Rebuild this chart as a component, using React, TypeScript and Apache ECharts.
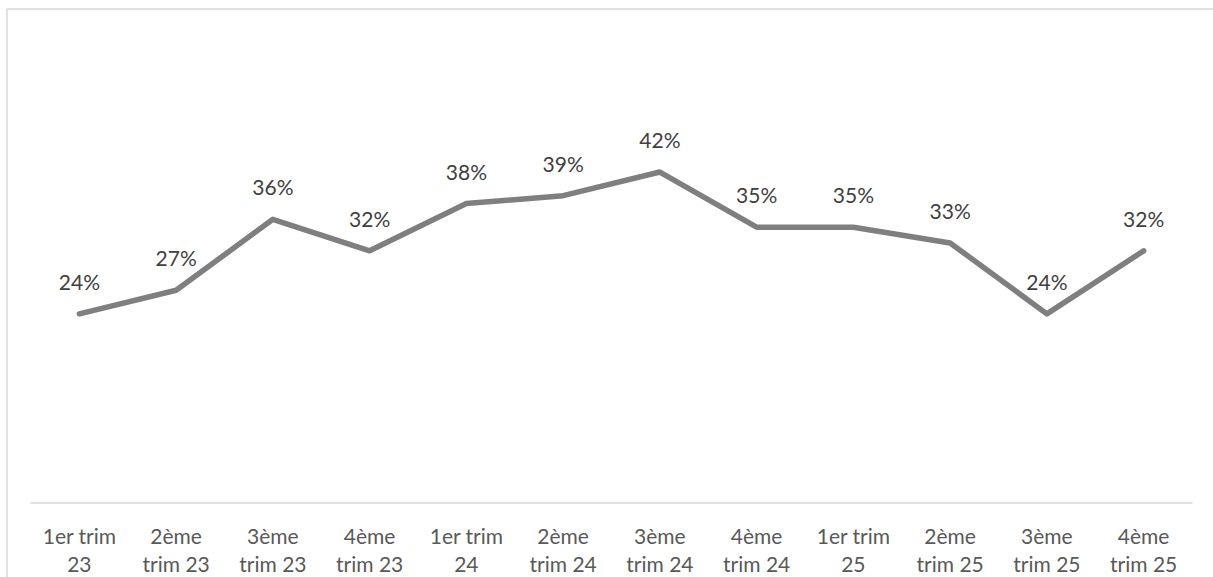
import React, { useEffect, useRef } from "react";
import * as echarts from "echarts";

const categories = [
  "1er trim\n23", "2ème\ntrim 23", "3ème\ntrim 23", "4ème\ntrim 23",
  "1er trim\n24", "2ème\ntrim 24", "3ème\ntrim 24", "4ème\ntrim 24",
  "1er trim\n25", "2ème\ntrim 25", "3ème\ntrim 25", "4ème\ntrim 25",
];
const values = [24, 27, 36, 32, 38, 39, 42, 35, 35, 33, 24, 32];

const FONT = "Lato, 'Open Sans', sans-serif";

export default function App() {
  const ref = useRef<HTMLDivElement>(null);
  useEffect(() => {
    if (!ref.current) return;
    const chart = echarts.init(ref.current, undefined, { renderer: "svg" });
    chart.setOption({
      animation: false,
      backgroundColor: "#ffffff",
      grid: { left: 31, right: 21, top: 109, bottom: 74, containLabel: false },
      graphic: [
        { type: "line", shape: { x1: 7, y1: 9, x2: 7, y2: 577 }, style: { stroke: "#d9d9d9", lineWidth: 1.5 } },
        { type: "line", shape: { x1: 7, y1: 9, x2: 1213, y2: 9 }, style: { stroke: "#d9d9d9", lineWidth: 1.5 } },
      ],
      xAxis: {
        type: "category",
        data: categories,
        boundaryGap: true,
        axisLine: { lineStyle: { color: "#d9d9d9", width: 1.5 } },
        axisTick: { show: false },
        axisLabel: {
          color: "#595959",
          fontFamily: FONT,
          fontSize: 21,
          lineHeight: 28,
          margin: 18,
          interval: 0,
        },
      },
      yAxis: {
        type: "value",
        min: 0,
        max: 50,
        show: false,
        splitLine: { show: false },
      },
      series: [
        {
          type: "line",
          data: values,
          symbol: "circle",
          symbolSize: 2,
          showSymbol: true,
          itemStyle: { color: "rgba(0,0,0,0)", borderWidth: 0 },
          lineStyle: { color: "#7f7f7f", width: 5.5, cap: "round", join: "round" },
          label: {
            show: true,
            position: "top",
            distance: 21,
            formatter: "{c}%",
            color: "#404040",
            fontFamily: FONT,
            fontSize: 21,
          },
          labelLayout: { hideOverlap: false },
        },
      ],
    });
    return () => chart.dispose();
  }, []);
  return (
    <div
      ref={ref}
      style={{ position: "absolute", left: 0, top: 0, width: 1213, height: 577 }}
    />
  );
}
